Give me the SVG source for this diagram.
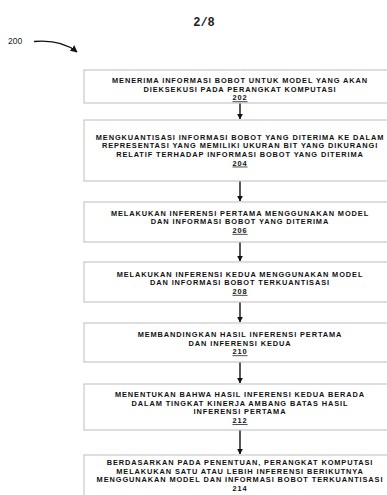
<svg xmlns="http://www.w3.org/2000/svg" width="387" height="495" viewBox="0 0 387 495">
<style>
.box{fill:#fff;stroke:#c8c8c8;stroke-width:1.2}
.t{font-family:"Liberation Sans",Arial,sans-serif;font-weight:bold;font-size:7.4px;letter-spacing:0.9px;fill:#111;text-anchor:middle}
.n{text-decoration:underline}
.c{stroke:#111;stroke-width:1.4;fill:none}
</style>
<defs>
<marker id="ah" viewBox="0 0 10 10" refX="9" refY="5" markerWidth="6" markerHeight="6" markerUnits="userSpaceOnUse" orient="auto">
<path d="M0,0 L10,5 L0,10 z" fill="#111"/>
</marker>
<marker id="ah2" viewBox="0 0 10 10" refX="9" refY="5" markerWidth="7" markerHeight="7" markerUnits="userSpaceOnUse" orient="auto">
<path d="M0,0 L10,5 L0,10 z" fill="#111"/>
</marker>
</defs>
<rect width="387" height="495" fill="#fff"/>
<text x="204" y="26" style="font-family:'Liberation Mono','Courier New',monospace;font-weight:bold;font-size:12px;fill:#222;text-anchor:middle">2/8</text>
<g id="label200">
<text x="8" y="44" style="font-family:'Liberation Sans',Arial,sans-serif;font-size:8.5px;fill:#222">200</text>
<path class="c" d="M34,41.5 C52,40 66,43 77,52" stroke-width="1.1" marker-end="url(#ah2)"/>
</g>
<g id="connectors">
<line class="c" x1="240" y1="103" x2="240" y2="119" marker-end="url(#ah)"/>
<line class="c" x1="240" y1="181" x2="240" y2="201" marker-end="url(#ah)"/>
<line class="c" x1="240" y1="242" x2="240" y2="261" marker-end="url(#ah)"/>
<line class="c" x1="240" y1="302" x2="240" y2="322" marker-end="url(#ah)"/>
<line class="c" x1="240" y1="362" x2="240" y2="383" marker-end="url(#ah)"/>
<line class="c" x1="240" y1="430" x2="240" y2="454" marker-end="url(#ah)"/>
</g>
<g id="n202">
<rect class="box" x="84" y="70" width="312" height="33"/>
<text class="t" x="240" y="83">MENERIMA INFORMASI BOBOT UNTUK MODEL YANG AKAN</text>
<text class="t" x="240" y="91.7">DIEKSEKUSI PADA PERANGKAT KOMPUTASI</text>
<text class="t n" x="240" y="100.4">202</text>
</g>
<g id="n204">
<rect class="box" x="84" y="120" width="312" height="61"/>
<text class="t" x="240" y="139.5">MENGKUANTISASI INFORMASI BOBOT YANG DITERIMA KE DALAM</text>
<text class="t" x="240" y="148.2">REPRESENTASI YANG MEMILIKI UKURAN BIT YANG DIKURANGI</text>
<text class="t" x="240" y="156.9">RELATIF TERHADAP INFORMASI BOBOT YANG DITERIMA</text>
<text class="t n" x="240" y="165.6">204</text>
</g>
<g id="n206">
<rect class="box" x="84" y="202" width="312" height="40"/>
<text class="t" x="240" y="215.5">MELAKUKAN INFERENSI PERTAMA MENGGUNAKAN MODEL</text>
<text class="t" x="240" y="224.2">DAN INFORMASI BOBOT YANG DITERIMA</text>
<text class="t n" x="240" y="232.9">206</text>
</g>
<g id="n208">
<rect class="box" x="84" y="262" width="312" height="40"/>
<text class="t" x="240" y="276.5">MELAKUKAN INFERENSI KEDUA MENGGUNAKAN MODEL</text>
<text class="t" x="240" y="285.2">DAN INFORMASI BOBOT TERKUANTISASI</text>
<text class="t n" x="240" y="293.9">208</text>
</g>
<g id="n210">
<rect class="box" x="84" y="323" width="312" height="39"/>
<text class="t" x="240" y="337">MEMBANDINGKAN HASIL INFERENSI PERTAMA</text>
<text class="t" x="240" y="345.7">DAN INFERENSI KEDUA</text>
<text class="t n" x="240" y="354.4">210</text>
</g>
<g id="n212">
<rect class="box" x="84" y="384" width="312" height="46"/>
<text class="t" x="240" y="397">MENENTUKAN BAHWA HASIL INFERENSI KEDUA BERADA</text>
<text class="t" x="240" y="405.7">DALAM TINGKAT KINERJA AMBANG BATAS HASIL</text>
<text class="t" x="240" y="414.4">INFERENSI PERTAMA</text>
<text class="t n" x="240" y="423.1">212</text>
</g>
<g id="n214">
<rect class="box" x="84" y="455" width="312" height="50"/>
<text class="t" x="240" y="465">BERDASARKAN PADA PENENTUAN, PERANGKAT KOMPUTASI</text>
<text class="t" x="240" y="473.7">MELAKUKAN SATU ATAU LEBIH INFERENSI BERIKUTNYA</text>
<text class="t" x="240" y="482.4">MENGGUNAKAN MODEL DAN INFORMASI BOBOT TERKUANTISASI</text>
<text class="t" x="240" y="491.1">214</text>
</g>
</svg>
